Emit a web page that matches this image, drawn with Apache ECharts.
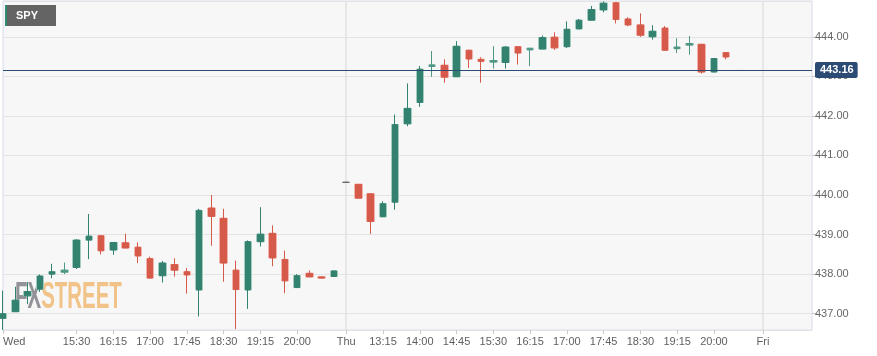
<!DOCTYPE html>
<html>
<head>
<meta charset="utf-8">
<script src="https://cdn.jsdelivr.net/npm/echarts@6/dist/echarts.min.js"></script>
<style>
  html, body { margin: 0; padding: 0; background: #ffffff; }
  #chart { width: 877px; height: 356px; }
</style>
</head>
<body>
<div id="chart"></div>
<script>
// ---- categories (15-minute bars) ----
const times = [
  "Wed 14:00","Wed 14:15","Wed 14:30","Wed 14:45","Wed 15:00","Wed 15:15","Wed 15:30","Wed 15:45",
  "Wed 16:00","Wed 16:15","Wed 16:30","Wed 16:45","Wed 17:00","Wed 17:15","Wed 17:30","Wed 17:45",
  "Wed 18:00","Wed 18:15","Wed 18:30","Wed 18:45","Wed 19:00","Wed 19:15","Wed 19:30","Wed 19:45",
  "Wed 20:00","Wed 20:15","Wed 20:30","Wed 20:45",
  "Thu 12:30","Thu 12:45","Thu 13:00","Thu 13:15","Thu 13:30","Thu 13:45","Thu 14:00","Thu 14:15",
  "Thu 14:30","Thu 14:45","Thu 15:00","Thu 15:15","Thu 15:30","Thu 15:45","Thu 16:00","Thu 16:15",
  "Thu 16:30","Thu 16:45","Thu 17:00","Thu 17:15","Thu 17:30","Thu 17:45","Thu 18:00","Thu 18:15",
  "Thu 18:30","Thu 18:45","Thu 19:00","Thu 19:15","Thu 19:30","Thu 19:45","Thu 20:00","Thu 20:15",
  "Thu 20:30","Thu 20:45",
  "Fri 12:30","Fri 12:45","Fri 13:00","Fri 13:15","Fri 13:30"
];

// ---- tick labels shown on the time axis ----
const tickLabels = {
  "Wed 14:00": "Wed", "Wed 15:30": "15:30", "Wed 16:15": "16:15", "Wed 17:00": "17:00",
  "Wed 17:45": "17:45", "Wed 18:30": "18:30", "Wed 19:15": "19:15", "Wed 20:00": "20:00",
  "Thu 12:30": "Thu", "Thu 13:15": "13:15", "Thu 14:00": "14:00", "Thu 14:45": "14:45",
  "Thu 15:30": "15:30", "Thu 16:15": "16:15", "Thu 17:00": "17:00", "Thu 17:45": "17:45",
  "Thu 18:30": "18:30", "Thu 19:15": "19:15", "Thu 20:00": "20:00", "Fri 12:30": "Fri"
};
const daySeparators = ["Thu 12:30", "Fri 12:30"];

// ---- OHLC values ----
const opens = [
  436.88, 437.05, 437.45, 437.62, 438.00, 438.05, 438.17, 438.86, 438.97, 438.61,
  438.79, 438.68, 438.39, 437.96, 438.24, 438.06, 437.60, 439.67, 439.41, 438.10,
  437.60, 438.82, 439.03, 438.37, 437.66, 438.02, 437.93, 437.94,
  440.32, 440.27, 440.03, 439.45, 439.82, 441.80, 442.34, 443.25, 443.28, 442.99,
  443.66, 443.43, 443.36, 443.35, 443.75, 443.67, 443.69, 443.99, 443.75, 444.20,
  444.42, 444.68, 444.86, 444.45, 444.30, 444.00, 444.22, 443.70, 443.79, 443.81,
  443.11, 443.60, 443.15
];
const closes = [
  437.00, 437.34, 437.56, 437.95, 438.06, 438.10, 438.86, 438.96, 438.59, 438.80,
  438.66, 438.46, 437.90, 438.28, 438.10, 437.98, 439.61, 439.46, 438.28, 437.61,
  438.82, 439.01, 438.41, 437.83, 437.96, 437.93, 437.90, 438.08,
  440.32, 439.92, 439.33, 439.78, 441.78, 442.19, 443.18, 443.29, 442.98, 443.76,
  443.44, 443.38, 443.40, 443.74, 443.59, 443.71, 443.98, 443.72, 444.19, 444.42,
  444.69, 444.85, 444.44, 444.30, 444.04, 444.14, 443.66, 443.74, 443.83, 443.11,
  443.45, 443.49, 443.15
];
const lows = [
  436.59, 437.05, 437.24, 437.55, 437.90, 438.00, 438.13, 438.38, 438.50, 438.49,
  438.66, 438.28, 437.90, 437.79, 437.94, 437.51, 436.93, 438.72, 437.81, 436.61,
  437.12, 438.70, 438.20, 437.52, 437.66, 437.93, 437.89, 437.94,
  440.32, 439.92, 439.02, 439.45, 439.63, 441.74, 442.23, 442.99, 442.84, 442.99,
  443.21, 442.84, 443.20, 443.20, 443.30, 443.26, 443.69, 443.67, 443.72, 444.20,
  444.42, 444.62, 444.34, 444.27, 444.00, 443.93, 443.66, 443.59, 443.55, 443.07,
  443.11, 443.43, 443.15
];
const highs = [
  437.58, 437.68, 437.79, 437.99, 438.26, 438.29, 438.88, 439.52, 438.97, 438.80,
  439.02, 438.80, 438.44, 438.33, 438.40, 438.15, 439.65, 440.00, 439.65, 438.34,
  438.85, 439.69, 439.23, 438.59, 438.00, 438.09, 437.94, 438.08,
  440.32, 440.27, 440.03, 439.84, 442.03, 442.82, 443.26, 443.64, 443.43, 443.89,
  443.66, 443.48, 443.76, 443.76, 443.75, 443.71, 444.03, 444.11, 444.39, 444.45,
  444.78, 444.89, 444.86, 444.49, 444.59, 444.29, 444.27, 443.96, 444.02, 443.81,
  443.45, 443.60, 443.15
];
const lastPrice = 443.16;
const symbolName = "SPY";

// ---- build chart ----
const UP = '#338270', DOWN = '#d65a4a';
const UP_LIGHT = '#a3cbc0', DOWN_LIGHT = '#f1b3ab';
const lastIdx = opens.length - 1;

function itemFor(i, outline) {
  const o = opens[i], c = closes[i];
  const item = { value: [o, c, lows[i], highs[i]] };
  let col = null;
  if (o === c) {
    col = (i === lastIdx) ? '#d8d8d8' : '#6e6e6e';
  } else if (Math.abs(c - o) < 0.06 && c > o && !outline) {
    col = '#4f9685';
  }
  if (col) item.itemStyle = { color: col, color0: col, borderColor: col, borderColor0: col };
  return item;
}
const outlineData = opens.map((_, i) => itemFor(i, true));
const mainData = opens.map((_, i) => itemFor(i, false));

const labelSet = new Set(Object.keys(tickLabels).map(k => times.indexOf(k)));
const sepSet = new Set(daySeparators.map(k => times.indexOf(k)));
const FONT = '"Liberation Sans", Arial, sans-serif';

const chart = echarts.init(document.getElementById('chart'), null, { renderer: 'canvas' });
chart.setOption({
  animation: false,
  backgroundColor: '#ffffff',
  textStyle: { fontFamily: FONT },
  grid: {
    left: 0, right: 65, top: 1, bottom: 26,
    show: true, backgroundColor: '#f7f7f7', borderColor: '#d6dcea', borderWidth: 1,
    containLabel: false
  },
  xAxis: {
    type: 'category',
    data: times,
    boundaryGap: false,
    axisLine: { show: false },
    axisTick: {
      show: true, length: 4, interval: (i) => labelSet.has(i),
      lineStyle: { color: '#c9c9c9' }
    },
    axisLabel: {
      interval: (i) => labelSet.has(i),
      formatter: (v) => tickLabels[v] || '',
      color: '#5f5f5f', fontSize: 11, margin: 6, fontFamily: FONT,
      alignMinLabel: 'left'
    },
    splitLine: {
      show: true, interval: (i) => sepSet.has(i),
      lineStyle: { color: '#e2e2e2', width: 1.5 }
    }
  },
  yAxis: {
    type: 'value',
    position: 'right',
    scale: true,
    min: 436.587, max: 444.905,
    splitNumber: 8,
    axisLine: { show: false },
    axisTick: { show: true, length: 5, lineStyle: { color: '#c9c9c9' } },
    axisLabel: {
      color: '#666666', fontSize: 11, margin: 3, fontFamily: FONT,
      showMinLabel: false, showMaxLabel: false,
      formatter: (v) => v.toFixed(2)
    },
    splitLine: { show: true, lineStyle: { color: '#e3e3e3', width: 1.2 } }
  },
  graphic: [
    { type: 'rect', shape: { x: 5, y: 5, width: 51, height: 21 }, style: { fill: '#646464' }, z: 10 },
    { type: 'rect', shape: { x: 5, y: 5, width: 2, height: 21 }, style: { fill: '#2e8b6e' }, z: 11 },
    { type: 'text', x: 16, y: 16, z: 11,
      style: { text: symbolName, fill: '#ffffff', font: 'bold 11px ' + FONT, verticalAlign: 'middle' } },
    { type: 'text', x: 15, y: 298, scaleX: 0.553, z: 1, silent: true,
      style: {
        text: '{a|FX}{b|STREET}',
        verticalAlign: 'middle',
        rich: {
          a: { fill: 'rgba(128,128,136,0.85)', font: 'bold 37px ' + FONT, lineHeight: 37 },
          b: { fill: 'rgba(240,192,130,0.95)', font: 'bold 37px ' + FONT, lineHeight: 37 }
        }
      } }
  ],
  series: [
    {
      name: 'outline', type: 'candlestick', data: outlineData, barWidth: 8, z: 3,
      silent: true,
      itemStyle: { color: UP_LIGHT, color0: DOWN_LIGHT, borderColor: UP_LIGHT, borderColor0: DOWN_LIGHT, borderWidth: 1 }
    },
    {
      name: symbolName, type: 'candlestick', data: mainData, barWidth: 6, z: 4,
      silent: true,
      itemStyle: { color: UP, color0: DOWN, borderColor: UP, borderColor0: DOWN, borderWidth: 1 },
      markLine: {
        silent: true, symbol: ['none', 'none'], animation: false,
        lineStyle: { color: '#2b4a74', width: 1.2, type: 'solid' },
        label: {
          show: true, position: 'end', distance: 3,
          formatter: () => lastPrice.toFixed(2),
          color: '#ffffff', fontWeight: 'bold', fontSize: 11, fontFamily: FONT,
          backgroundColor: '#2b4a74', padding: [3, 4, 2, 5], borderRadius: 2
        },
        data: [{ yAxis: lastPrice }]
      }
    }
  ]
});
</script>
</body>
</html>
